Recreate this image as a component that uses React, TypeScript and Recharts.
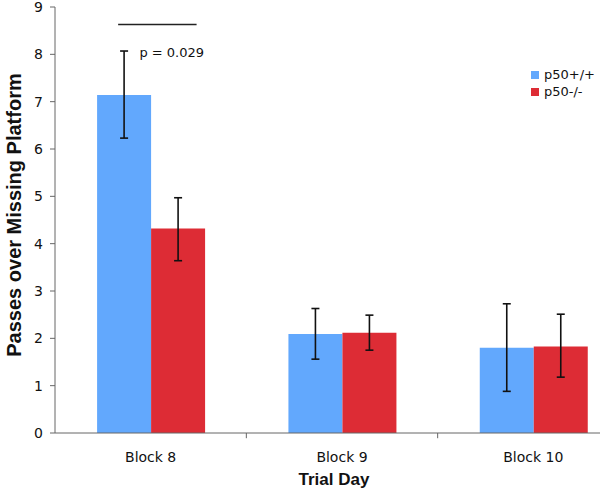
import { Bar, BarChart, ErrorBar, ReferenceDot, ReferenceLine, XAxis, YAxis } from "recharts";

const blocks = ["Block 8", "Block 9", "Block 10"];
const wildType = [7.14, 2.09, 1.8];
const knockout = [4.32, 2.12, 1.83];
// [minus, plus] around each bar
const wildTypeErr = [[0.91, 0.93], [0.53, 0.54], [0.92, 0.93]];
const knockoutErr = [[0.68, 0.65], [0.37, 0.37], [0.65, 0.68]];
const yTicks = [0, 1, 2, 3, 4, 5, 6, 7, 8, 9];
const seriesNames = ["p50+/+", "p50-/-"];
const sigY = 8.63;
const sigFrom = 0.33;
const sigTo = 0.74;

const data = blocks.map((block, i) => ({
  block,
  pos: i + 0.5,
  wt: wildType[i],
  ko: knockout[i],
  wtErr: wildTypeErr[i],
  koErr: knockoutErr[i]
}));

const BLUE = "#62a8fd";
const RED = "#dd2c35";
const tickFont = "'DejaVu Sans', Verdana, sans-serif";
const titleFont = "'Liberation Sans', Arial, sans-serif";

function YTitle({ viewBox }: any) {
  const cy = viewBox.y + viewBox.height / 2 - 5;
  return (
    <text
      x={14}
      y={cy}
      transform={`rotate(-90, 14, ${cy})`}
      textAnchor="middle"
      dominantBaseline="central"
      fontFamily={titleFont}
      fontWeight="bold"
      fontSize={20}
      fill="#111"
    >
      Passes over Missing Platform
    </text>
  );
}

function XTitle({ viewBox }: any) {
  const cx = viewBox.x + viewBox.width / 2 - 8;
  return (
    <text
      x={cx}
      y={485}
      textAnchor="middle"
      fontFamily={titleFont}
      fontWeight="bold"
      fontSize={17}
      fill="#111"
    >
      Trial Day
    </text>
  );
}

function LegendBox() {
  const colors = [BLUE, RED];
  return (
    <div style={{ position: "absolute", top: 66, left: 531, fontFamily: tickFont, fontSize: 13, color: "#111" }}>
      {seriesNames.map((name, i) => (
        <div key={name} style={{ display: "flex", alignItems: "center", height: 17 }}>
          <span style={{ width: 8, height: 8, background: colors[i], marginRight: 5, display: "inline-block" }} />
          {name}
        </div>
      ))}
    </div>
  );
}

export default function App() {
  return (
    <div style={{ position: "fixed", top: 0, left: 0, width: 600, height: 489, overflow: "hidden", background: "#fff" }}>
      <BarChart
        width={640}
        height={489}
        data={data}
        margin={{ top: 7, right: 11, left: 0, bottom: 0 }}
        barCategoryGap="22%"
        barGap={0}
      >
        <XAxis
          dataKey="block"
          tickLine={false}
          tickSize={0}
          tickMargin={19}
          height={56}
          axisLine={{ stroke: "#666" }}
          tick={{ fontFamily: tickFont, fontSize: 14, fill: "#111" }}
          label={<XTitle />}
        />
        <XAxis xAxisId="num" dataKey="pos" type="number" domain={[0, 3]} allowDataOverflow hide />
        <YAxis
          width={55}
          domain={[0, 9]}
          ticks={yTicks}
          interval={0}
          tickSize={5}
          tickMargin={7}
          axisLine={{ stroke: "#666" }}
          tickLine={{ stroke: "#666" }}
          tick={{ fontFamily: tickFont, fontSize: 14, fill: "#111" }}
          label={<YTitle />}
        />
        <Bar dataKey="wt" name={seriesNames[0]} fill={BLUE} isAnimationActive={false}>
          <ErrorBar dataKey="wtErr" width={4} stroke="#111" strokeWidth={1.6} direction="y" />
        </Bar>
        <Bar dataKey="ko" name={seriesNames[1]} fill={RED} isAnimationActive={false}>
          <ErrorBar dataKey="koErr" width={4} stroke="#111" strokeWidth={1.6} direction="y" />
        </Bar>
        {[1, 2].map((x) => (
          <ReferenceLine
            key={`sep-${x}`}
            xAxisId="num"
            segment={[{ x, y: 0 }, { x, y: -0.11 }]}
            stroke="#666"
            ifOverflow="visible"
          />
        ))}
        <ReferenceLine
          xAxisId="num"
          segment={[{ x: sigFrom, y: sigY }, { x: sigTo, y: sigY }]}
          stroke="#222"
          strokeWidth={1.5}
          ifOverflow="visible"
        />
        <ReferenceDot
          xAxisId="num"
          x={0.61}
          y={8.05}
          r={0}
          fill="none"
          stroke="none"
          label={{ value: "p = 0.029", position: "center", fontFamily: tickFont, fontSize: 13, fill: "#111" }}
        />
      </BarChart>
      <LegendBox />
    </div>
  );
}
